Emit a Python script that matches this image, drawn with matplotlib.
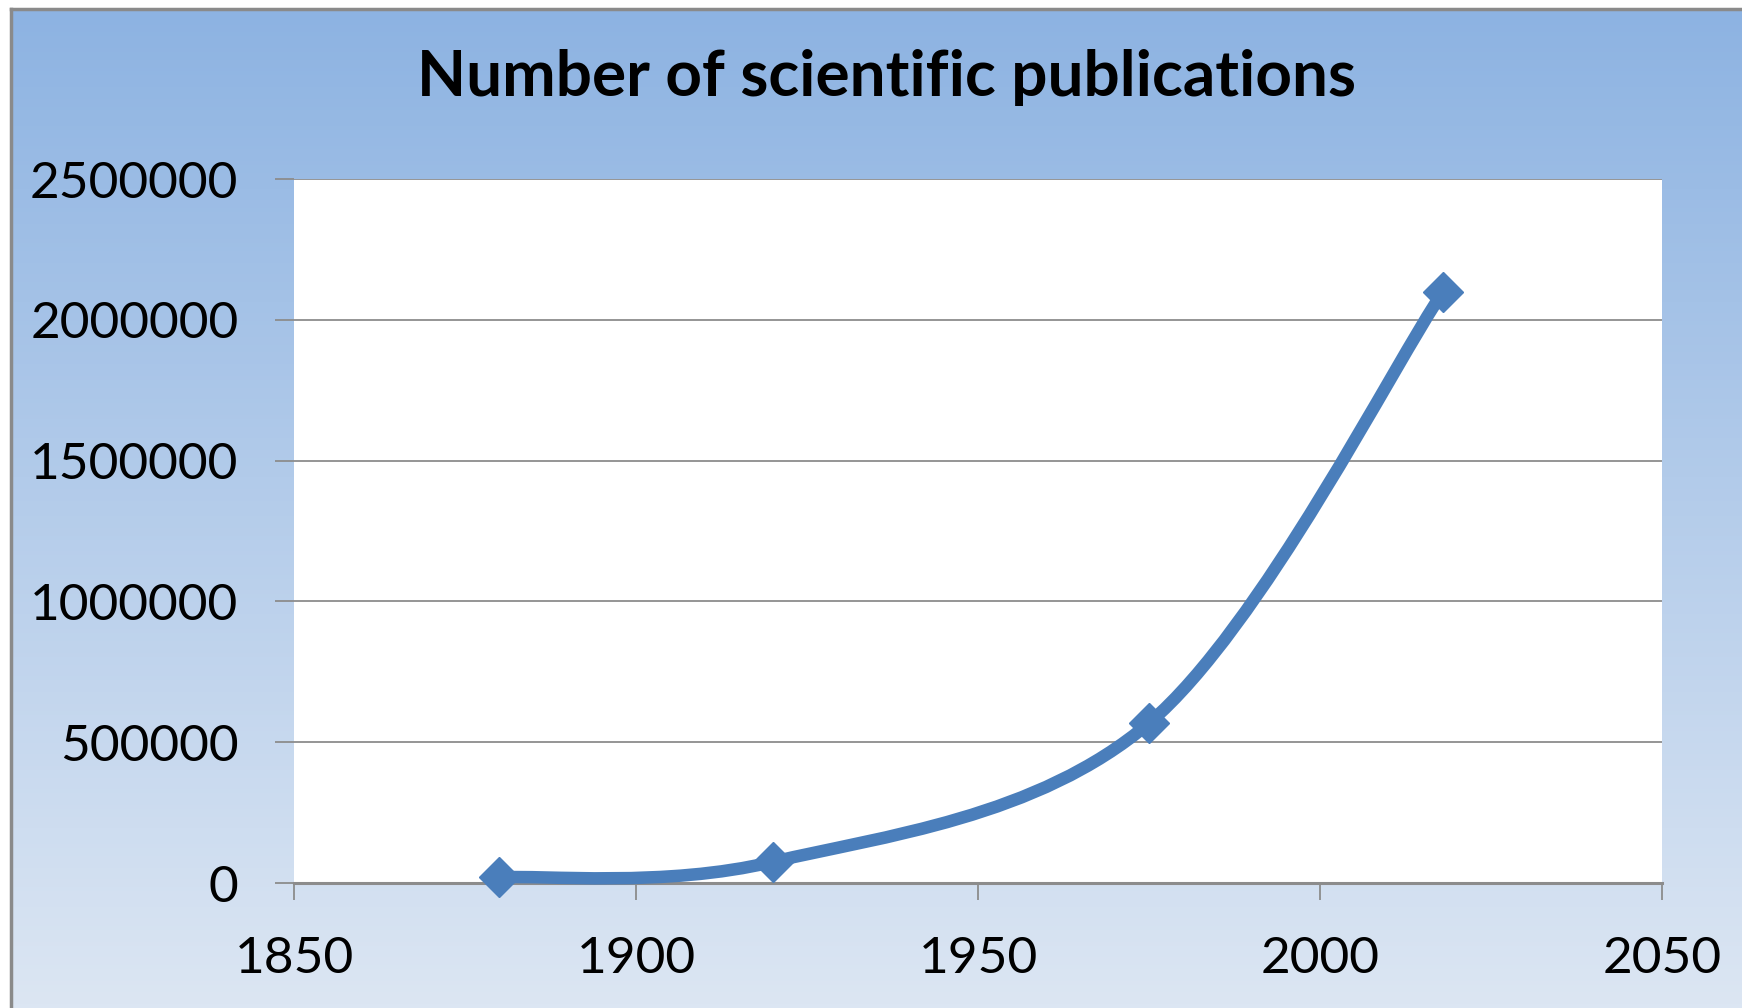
import numpy as np
import matplotlib
matplotlib.use("Agg")
import matplotlib.pyplot as plt
from matplotlib.path import Path
from matplotlib.patches import PathPatch
from matplotlib.colors import LinearSegmentedColormap

# ---- data ----
years = [1880, 1920, 1975, 2018]
publications = [20000, 75000, 568000, 2100000]
x_ticks = [1850, 1900, 1950, 2000, 2050]
y_ticks = [0, 500000, 1000000, 1500000, 2000000, 2500000]
title = "Number of scientific publications"

plt.rcParams['font.family'] = ['Lato', 'DejaVu Sans']

W, H = 1742, 1008
fig = plt.figure(figsize=(W / 100, H / 100), dpi=100)
fig.patch.set_facecolor('white')

# gradient background
bg = fig.add_axes([11 / W, 0, 1 - 11 / W, 1 - 9 / H], zorder=0)
cmap = LinearSegmentedColormap.from_list('bg', ['#8DB3E2', '#DCE6F3'])
bg.imshow(np.linspace(0, 1, 256).reshape(-1, 1), aspect='auto', cmap=cmap,
          extent=[0, 1, 0, 1], origin='upper')
bg.set_xlim(0, 1)
bg.set_ylim(0, 1)
bg.axis('off')
fig.add_artist(plt.Line2D([11 / W, 11 / W], [0, 1 - 9 / H], color='#8a8a8a', lw=2.5,
                          transform=fig.transFigure))
fig.add_artist(plt.Line2D([11 / W, 1], [1 - 9 / H, 1 - 9 / H], color='#8a8a8a', lw=2.5,
                          transform=fig.transFigure))

left, right = 294 / W, 1662 / W
bottom, top = 1 - 883 / H, 1 - 179 / H
ax = fig.add_axes([left, bottom, right - left, top - bottom], zorder=1)
ax.set_facecolor('white')
ax.set_xlim(x_ticks[0], x_ticks[-1])
ax.set_ylim(y_ticks[0], y_ticks[-1])
ax.set_xticks(x_ticks)
ax.set_yticks(y_ticks)
ax.set_xticklabels([str(v) for v in x_ticks])
ax.set_yticklabels([str(v) for v in y_ticks])

for s in ['left', 'right', 'top']:
    ax.spines[s].set_visible(False)
ax.spines['bottom'].set_color('#8c8c8c')
ax.spines['bottom'].set_linewidth(2.2)

ax.yaxis.grid(True, color='#8c8c8c', lw=1.3)
ax.set_axisbelow(True)
ax.tick_params(axis='y', length=14, width=1.3, color='#8c8c8c', pad=26,
               labelsize=37)
ax.tick_params(axis='x', length=12, width=1.3, color='#8c8c8c', pad=26,
               labelsize=37)

# smoothed (Catmull-Rom / Excel style) line through the points
pts = np.column_stack([years, publications]).astype(float)
ext = np.vstack([pts[0], pts, pts[-1]])
verts = [tuple(pts[0])]
codes = [Path.MOVETO]
for i in range(1, len(ext) - 2):
    p0, p1, p2, p3 = ext[i - 1], ext[i], ext[i + 1], ext[i + 2]
    c1 = p1 + (p2 - p0) / 6.0
    c2 = p2 - (p3 - p1) / 6.0
    verts += [tuple(c1), tuple(c2), tuple(p2)]
    codes += [Path.CURVE4] * 3
path = Path(verts, codes)
ax.add_patch(PathPatch(path, facecolor='none', edgecolor='#4A7EBB', lw=9,
                       capstyle='round', joinstyle='round', zorder=3,
                       clip_on=False))
ax.plot(years, publications, linestyle='none', marker='D', markersize=20,
        color='#4A7EBB', zorder=4, clip_on=False)

fig.text(0.509, 1 - 78 / H, title, ha='center', va='center',
         fontsize=46, fontweight='bold', color='black')

fig.savefig('out.png', dpi=100)
